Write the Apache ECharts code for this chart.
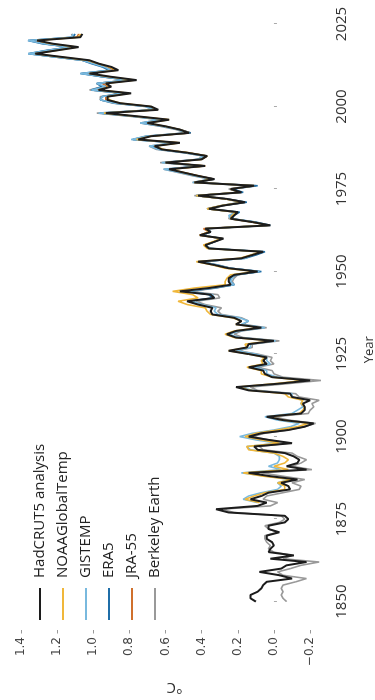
<!DOCTYPE html>
<html><head><meta charset="utf-8">
<script src="https://cdn.jsdelivr.net/npm/echarts@6/dist/echarts.min.js"></script>
<style>
html,body{margin:0;padding:0;background:#fff;overflow:hidden;width:375px;height:700px;}
#wrap{position:absolute;left:0;top:0;width:700px;height:375px;transform-origin:0 0;transform:translate(0,700px) rotate(-90deg);}
</style></head>
<body><div id="wrap"></div>
<script>
const seriesNames = ["HadCRUT5 analysis","NOAAGlobalTemp","GISTEMP","ERA5","JRA-55","Berkeley Earth"];
const yearTicks = [1850,1875,1900,1925,1950,1975,2000,2025];
const tempTicks = [-0.2,0,0.2,0.4,0.6,0.8,1.0,1.2,1.4];

const hadcrutStart = 1850;
const hadcrut = [0.10,0.13,0.13,0.09,0.07,0.06,0.04,-0.10,-0.03,0.08,-0.04,-0.07,-0.18,0.02,-0.11,0.03,0.02,0.00,0.01,0.04,
0.04,-0.03,0.03,0.03,-0.06,-0.08,-0.06,0.25,0.32,0.09,0.04,0.13,0.07,0.03,-0.09,-0.08,-0.04,-0.13,0.02,0.14,
-0.18,-0.07,-0.13,-0.14,-0.11,-0.06,0.09,0.11,-0.10,0.03,0.14,0.07,-0.08,-0.17,-0.22,-0.05,0.04,-0.15,-0.17,-0.17,
-0.16,-0.20,-0.10,-0.09,0.14,0.21,-0.02,-0.20,0.01,0.05,0.06,0.14,0.04,0.06,0.04,0.14,0.25,0.15,0.14,0.00,
0.21,0.26,0.21,0.07,0.21,0.18,0.22,0.34,0.35,0.34,
0.42,0.48,0.33,0.35,0.52,0.36,0.24,0.25,0.25,0.22,
0.09,0.25,0.33,0.42,0.18,0.12,0.06,0.36,0.38,0.33,
0.28,0.41,0.35,0.38,0.02,0.12,0.24,0.22,0.20,0.36,
0.28,0.16,0.26,0.42,0.18,0.24,0.11,0.44,0.33,0.42,
0.50,0.58,0.38,0.60,0.40,0.37,0.48,0.62,0.66,0.52,
0.75,0.68,0.47,0.52,0.60,0.70,0.58,0.75,0.93,0.64,
0.68,0.85,0.92,0.92,0.79,0.97,0.90,0.93,0.76,0.90,
1.02,0.86,0.90,0.97,1.02,1.17,1.32,1.20,1.08,1.22,
1.31,1.07,1.06];

const noaaStart = 1880;
const noaa = [0.08,0.16,0.11,0.05,-0.06,-0.06,-0.02,-0.10,0.06,0.17,-0.08,0.00,-0.06,-0.08,-0.05,0.00,0.14,0.15,-0.03,0.07,
0.16,0.10,-0.02,-0.13,-0.19,-0.05,0.03,-0.14,-0.16,-0.17,-0.15,-0.16,-0.08,-0.06,0.13,0.20,0.00,-0.17,0.01,0.07,
0.07,0.15,0.06,0.07,0.05,0.14,0.25,0.15,0.16,0.01,0.22,0.27,0.22,0.08,0.21,0.18,0.23,0.35,0.37,0.38,
0.48,0.53,0.42,0.45,0.56,0.44,0.27,0.27,0.26,0.24,
0.10,0.27,0.34,0.43,0.19,0.13,0.07,0.37,0.39,0.34,
0.29,0.41,0.36,0.38,0.03,0.12,0.24,0.23,0.21,0.37,
0.29,0.17,0.27,0.43,0.19,0.24,0.11,0.44,0.34,0.42,
0.50,0.57,0.38,0.60,0.40,0.37,0.47,0.61,0.66,0.52,
0.76,0.68,0.47,0.52,0.60,0.70,0.58,0.76,0.94,0.65,
0.68,0.85,0.91,0.92,0.80,0.97,0.91,0.93,0.77,0.91,
1.02,0.87,0.91,0.97,1.03,1.18,1.32,1.20,1.09,1.23,
1.31,1.08,1.07];

const gistempStart = 1880;
const gistemp = [0.09,0.17,0.14,0.07,-0.02,-0.04,-0.02,-0.09,0.04,0.18,-0.04,0.03,-0.02,-0.03,-0.03,0.00,0.13,0.15,-0.02,0.10,
0.19,0.12,0.00,-0.09,-0.14,-0.02,0.05,-0.10,-0.13,-0.16,-0.15,-0.16,-0.10,-0.10,0.12,0.18,-0.02,-0.17,-0.02,0.04,
0.04,0.11,0.02,0.04,0.04,0.10,0.21,0.13,0.13,-0.01,0.19,0.25,0.19,0.05,0.18,0.14,0.19,0.31,0.33,0.32,
0.40,0.46,0.33,0.34,0.49,0.34,0.22,0.24,0.23,0.22,
0.08,0.24,0.31,0.41,0.16,0.12,0.06,0.35,0.38,0.33,
0.29,0.40,0.35,0.38,0.04,0.11,0.24,0.25,0.21,0.37,
0.29,0.18,0.26,0.43,0.19,0.24,0.12,0.45,0.35,0.44,
0.52,0.61,0.40,0.62,0.42,0.39,0.50,0.64,0.69,0.55,
0.79,0.71,0.49,0.53,0.62,0.74,0.63,0.78,0.97,0.67,
0.71,0.88,0.96,0.95,0.83,1.01,0.93,0.98,0.81,0.94,
1.07,0.90,0.94,1.00,1.06,1.21,1.36,1.25,1.13,1.27,
1.36,1.12,1.11];

const era5Start = 1940;
const era5 = [0.40,0.47,0.34,0.36,0.48,0.33,0.22,0.24,0.24,0.21,
0.07,0.24,0.32,0.40,0.16,0.10,0.05,0.36,0.38,0.33,
0.29,0.40,0.35,0.37,0.02,0.10,0.23,0.22,0.19,0.36,
0.28,0.15,0.26,0.43,0.17,0.23,0.09,0.43,0.33,0.43,
0.51,0.59,0.39,0.60,0.41,0.37,0.48,0.63,0.68,0.54,
0.78,0.70,0.46,0.52,0.61,0.73,0.61,0.77,0.96,0.66,
0.70,0.88,0.96,0.95,0.84,1.01,0.95,0.98,0.81,0.95,
1.07,0.91,0.95,1.01,1.06,1.21,1.36,1.26,1.13,1.28,
1.36,1.11,1.10];

const jra55Start = 1958;
const jra55 = [0.39,0.33,0.29,0.41,0.36,0.39,0.03,0.12,0.24,0.23,0.20,0.37,
0.28,0.16,0.26,0.43,0.18,0.24,0.10,0.44,0.33,0.42,
0.50,0.58,0.38,0.60,0.40,0.37,0.48,0.63,0.67,0.53,
0.76,0.69,0.46,0.52,0.61,0.72,0.59,0.77,0.95,0.65,
0.69,0.86,0.93,0.93,0.81,0.98,0.92,0.95,0.78,0.92,
1.04,0.88,0.92,0.98,1.04,1.19,1.34,1.22,1.10,1.25,
1.33,1.09,1.08];

const berkeleyStart = 1850;
const berkeley = [-0.07,-0.05,-0.04,-0.05,-0.04,-0.05,-0.12,-0.18,-0.05,-0.02,-0.09,-0.15,-0.25,-0.05,-0.10,0.00,0.03,0.02,0.04,0.05,
0.05,-0.02,0.03,0.05,-0.03,-0.06,-0.04,0.22,0.29,0.02,-0.02,0.06,0.04,-0.05,-0.14,-0.15,-0.10,-0.17,-0.05,0.07,
-0.21,-0.10,-0.15,-0.18,-0.13,-0.10,0.06,0.08,-0.08,0.03,0.12,0.05,-0.08,-0.17,-0.23,-0.08,0.00,-0.19,-0.20,-0.22,
-0.21,-0.25,-0.14,-0.12,0.09,0.13,-0.07,-0.26,-0.05,0.00,0.01,0.09,0.00,0.02,0.01,0.09,0.20,0.12,0.12,-0.03,
0.17,0.22,0.18,0.04,0.17,0.14,0.18,0.29,0.31,0.29,
0.38,0.43,0.30,0.31,0.46,0.32,0.22,0.23,0.22,0.20,
0.08,0.24,0.31,0.41,0.18,0.12,0.07,0.35,0.38,0.33,
0.28,0.40,0.35,0.38,0.04,0.11,0.25,0.24,0.21,0.37,
0.29,0.18,0.27,0.44,0.19,0.25,0.13,0.45,0.35,0.45,
0.53,0.61,0.41,0.63,0.42,0.39,0.50,0.65,0.69,0.55,
0.78,0.71,0.49,0.54,0.63,0.74,0.63,0.79,0.98,0.67,
0.71,0.89,0.96,0.96,0.84,1.02,0.95,0.98,0.81,0.95,
1.06,0.90,0.94,1.00,1.06,1.21,1.35,1.25,1.13,1.27,
1.35,1.11,1.12];

const colors = {
  "HadCRUT5 analysis":"#1c1c1c",
  "NOAAGlobalTemp":"#f0b73a",
  "GISTEMP":"#79b9de",
  "ERA5":"#1f6ea8",
  "JRA-55":"#d0702c",
  "Berkeley Earth":"#999999"
};

function pairs(start, arr){ return arr.map((v,i)=>[start+i, v]); }
const seriesData = {
  "HadCRUT5 analysis": pairs(hadcrutStart, hadcrut),
  "NOAAGlobalTemp": pairs(noaaStart, noaa),
  "GISTEMP": pairs(gistempStart, gistemp),
  "ERA5": pairs(era5Start, era5),
  "JRA-55": pairs(jra55Start, jra55),
  "Berkeley Earth": pairs(berkeleyStart, berkeley)
};
const drawOrder = ["Berkeley Earth","JRA-55","ERA5","GISTEMP","NOAAGlobalTemp","HadCRUT5 analysis"];

const chart = echarts.init(document.getElementById('wrap'), null, {width:700, height:375});
chart.setOption({
  animation:false,
  backgroundColor:'#fff',
  grid:{left:70, right:5.5, top:19, bottom:45, containLabel:false, outerBoundsMode:'none'},
  legend:{
    data:seriesNames, orient:'vertical', left:80, top:32.5, padding:0,
    icon:'rect', itemWidth:32, itemHeight:2, itemGap:8,
    textStyle:{fontFamily:'Open Sans', fontSize:15, color:'#222', lineHeight:15, padding:[0,0,0,5]},
    selectedMode:false
  },
  xAxis:{
    type:'value', min:1841.4, max:2030.6,
    name:'Year', nameLocation:'middle', nameGap:33,
    nameTextStyle:{fontFamily:'Open Sans', fontSize:13, color:'#333', padding:[0,64,0,0]},
    axisLine:{show:false}, splitLine:{show:false},
    axisTick:{show:true, customValues:yearTicks, length:3, lineStyle:{color:'#aaa'}},
    axisLabel:{customValues:yearTicks, fontFamily:'Open Sans', fontSize:15, color:'#333', margin:4,
      formatter:function(v){ return String(Math.round(v)); }}
  },
  yAxis:{
    type:'value', min:-0.31, max:1.41,
    name:'°C', nameLocation:'middle', nameGap:50, nameRotate:90,
    nameTextStyle:{fontFamily:'Open Sans', fontSize:15, color:'#333'},
    axisLine:{show:false}, splitLine:{show:false},
    axisTick:{show:true, customValues:tempTicks, length:3.5, lineStyle:{color:'#999'}},
    axisLabel:{customValues:tempTicks, fontFamily:'DejaVu Sans', fontSize:12, color:'#444', margin:7,
      formatter:function(v){ var s=Math.abs(v).toFixed(1); return (v< -0.001?'\u2212':'')+s; }}
  },
  series: drawOrder.map(function(n){
    return {name:n, type:'line', data:seriesData[n], showSymbol:false, symbol:'none',
      lineStyle:{color:colors[n], width:n==="HadCRUT5 analysis"?2:1.6}, itemStyle:{color:colors[n]}, z:2};
  })
});
</script></body></html>
